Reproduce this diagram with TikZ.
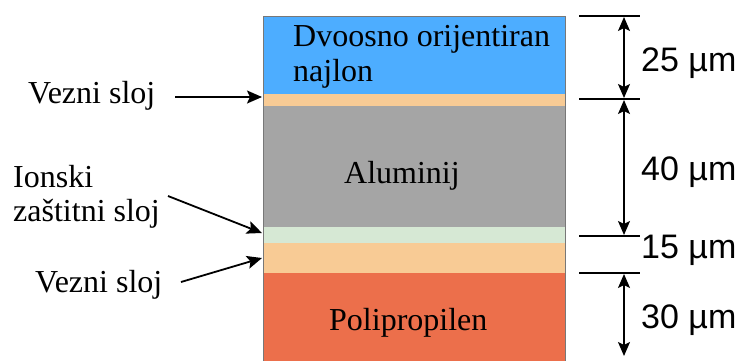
\documentclass[tikz,border=0pt]{standalone}
\usepackage{fontspec}
\setmainfont{Liberation Serif}
\newfontfamily\dimfont{Liberation Sans}
\usetikzlibrary{arrows.meta}
\definecolor{nylon}{RGB}{77,173,255}
\definecolor{tie}{RGB}{248,203,149}
\definecolor{alu}{RGB}{165,165,165}
\definecolor{ion}{RGB}{214,232,212}
\definecolor{pp}{RGB}{236,111,75}
\definecolor{edge}{RGB}{120,120,120}
\tikzset{
  lbl/.style={font=\fontsize{32}{35}\selectfont, inner sep=0pt, anchor=base west},
  dimlbl/.style={font=\dimfont\fontsize{34}{36}\selectfont, inner sep=0pt, anchor=base west},
  ptr/.style={line width=1.8pt, -{Stealth[length=15pt,width=13pt,inset=3pt]}},
  dimarr/.style={line width=1.6pt, {Stealth[length=14pt,width=12pt,inset=3pt]}-{Stealth[length=14pt,width=12pt,inset=3pt]}},
  tick/.style={line width=1.3pt},
}
\begin{document}
\begin{tikzpicture}[x=1pt,y=-1pt]
\useasboundingbox (0,0) rectangle (745,360);
\begin{scope}
\clip (0,0) rectangle (745,360);
% layers
\fill[nylon] (263,16) rectangle (565,94);
\fill[tie] (263,94) rectangle (565,106);
\fill[alu] (263,106) rectangle (565,227);
\fill[ion] (263,227) rectangle (565,243);
\fill[tie] (263,243) rectangle (565,273);
\fill[pp] (263,273) rectangle (565,362);
\draw[edge, line width=0.8pt] (263,362) -- (263,16) -- (565,16) -- (565,362);
\end{scope}
% layer labels
\node[lbl] (dvo) at (293,46) {Dvoosno orijentiran};
\node[lbl] (naj) at (293,81) {najlon};
\node[lbl] (alum) at (344,183) {Aluminij};
\node[lbl] (poli) at (329,330) {Polipropilen};
% left labels
\node[lbl] (vez1) at (28,103) {Vezni sloj};
\node[lbl] (ion1) at (13,187) {Ionski};
\node[lbl] (ion2) at (13,221) {zaštitni sloj};
\node[lbl] (vez2) at (35,292) {Vezni sloj};
% arrow coordinates
\coordinate (s1) at (175,97);
\coordinate (t1) at (262,97);
\coordinate (s2) at (168,196);
\coordinate (t2) at (262,233);
\coordinate (s3) at (181,282);
\coordinate (t3) at (262,258);
\draw[ptr] (s1) -- (t1);
\draw[ptr] (s2) -- (t2);
\draw[ptr] (s3) -- (t3);
% dimension ticks
\coordinate (k1a) at (579,16);  \coordinate (k1b) at (640,16);
\coordinate (k2a) at (579,99);  \coordinate (k2b) at (640,99);
\coordinate (k3a) at (579,236); \coordinate (k3b) at (640,236);
\coordinate (k4a) at (579,273); \coordinate (k4b) at (640,273);
\draw[tick] (k1a) -- (k1b);
\draw[tick] (k2a) -- (k2b);
\draw[tick] (k3a) -- (k3b);
\draw[tick] (k4a) -- (k4b);
\coordinate (d1) at (624,17);
\coordinate (d2) at (624,98);
\coordinate (d3) at (624,100);
\coordinate (d4) at (624,235);
\coordinate (d5) at (624,274);
\coordinate (d6) at (624,356);
\draw[dimarr] (d1) -- (d2);
\draw[dimarr] (d3) -- (d4);
\draw[dimarr] (d5) -- (d6);
\node[dimlbl] (m25) at (641,71) {25 µm};
\node[dimlbl] (m40) at (641,180) {40 µm};
\node[dimlbl] (m15) at (641,258) {15 µm};
\node[dimlbl] (m30) at (641,328) {30 µm};
\end{tikzpicture}
\end{document}
